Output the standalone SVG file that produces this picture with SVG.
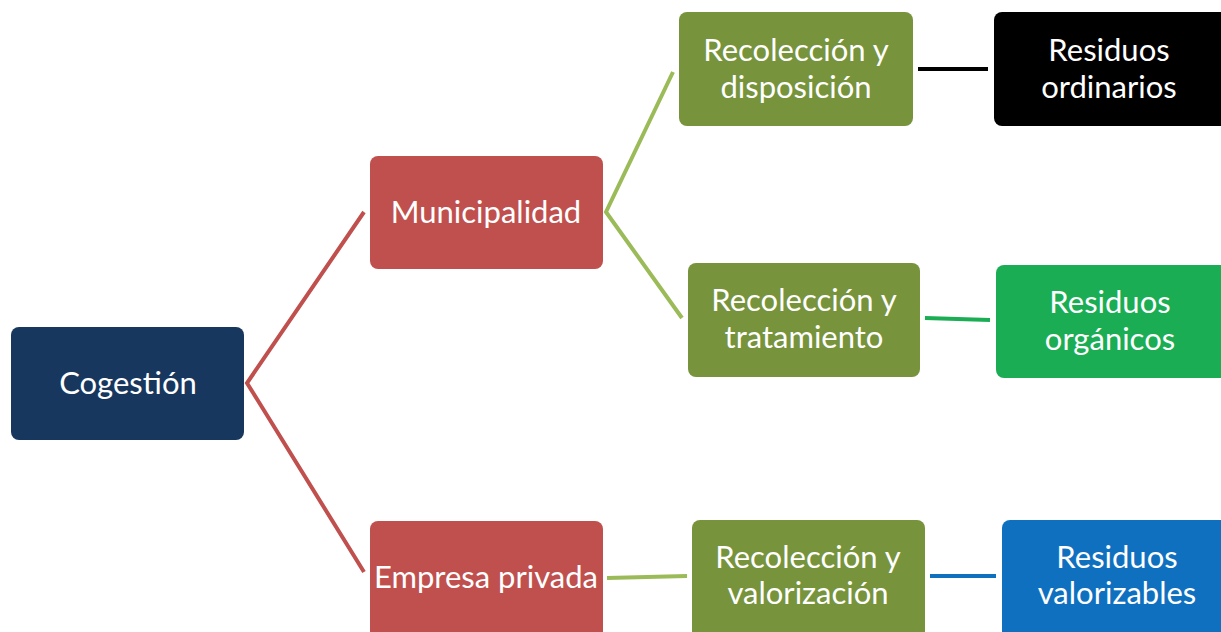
<svg xmlns="http://www.w3.org/2000/svg" width="1221" height="632" viewBox="0 0 1221 632">
<style>
.box{stroke:none}
.t{font-family:Lato,"Open Sans",sans-serif;font-size:31px;fill:#fff;text-anchor:middle}
.c{fill:none;stroke-width:4;stroke-linecap:butt}
</style>
<rect width="1221" height="632" fill="#fff"/>
<g id="connectors">
<polyline class="c" stroke="#c0504d" points="364,212 247,383 364,572"/>
<polyline class="c" stroke="#9bbb59" points="673,72 606,212 682,318"/>
<line class="c" stroke="#000" x1="918" y1="69" x2="988" y2="69" stroke-width="5"/>
<line class="c" stroke="#1aad54" x1="925" y1="318" x2="990" y2="320" stroke-width="5"/>
<line class="c" stroke="#9bbb59" x1="607" y1="578" x2="687" y2="576" stroke-width="5"/>
<line class="c" stroke="#1070c0" x1="930" y1="576" x2="996" y2="576" stroke-width="5"/>
</g>
<g id="cogestion">
<rect class="box" x="11" y="327" width="233" height="113" rx="8" fill="#17375e"/>
<text class="t" x="128" y="394">Cogestión</text>
</g>
<g id="municipalidad">
<rect class="box" x="370" y="156" width="233" height="113" rx="8" fill="#c0504d"/>
<text class="t" x="486" y="223">Municipalidad</text>
</g>
<g id="empresa">
<rect class="box" x="370" y="521" width="233" height="120" rx="8" fill="#c0504d"/>
<text class="t" x="486" y="588">Empresa privada</text>
</g>
<g id="rec-disposicion">
<rect class="box" x="679" y="12" width="234" height="114" rx="8" fill="#77933c"/>
<text class="t" x="796" y="61">Recolección y</text>
<text class="t" x="796" y="98">disposición</text>
</g>
<g id="res-ordinarios">
<rect class="box" x="994" y="12" width="240" height="114" rx="8" fill="#000"/>
<text class="t" x="1109" y="61">Residuos</text>
<text class="t" x="1109" y="98">ordinarios</text>
</g>
<g id="rec-tratamiento">
<rect class="box" x="688" y="263" width="232" height="114" rx="8" fill="#77933c"/>
<text class="t" x="804" y="311">Recolección y</text>
<text class="t" x="804" y="348">tratamiento</text>
</g>
<g id="res-organicos">
<rect class="box" x="996" y="265" width="240" height="113" rx="8" fill="#1aad54"/>
<text class="t" x="1110" y="313">Residuos</text>
<text class="t" x="1110" y="350">orgánicos</text>
</g>
<g id="rec-valorizacion">
<rect class="box" x="692" y="520" width="233" height="120" rx="8" fill="#77933c"/>
<text class="t" x="808" y="568">Recolección y</text>
<text class="t" x="808" y="604">valorización</text>
</g>
<g id="res-valorizables">
<rect class="box" x="1002" y="520" width="240" height="120" rx="8" fill="#1070c0"/>
<text class="t" x="1117" y="568">Residuos</text>
<text class="t" x="1117" y="604">valorizables</text>
</g>
</svg>
